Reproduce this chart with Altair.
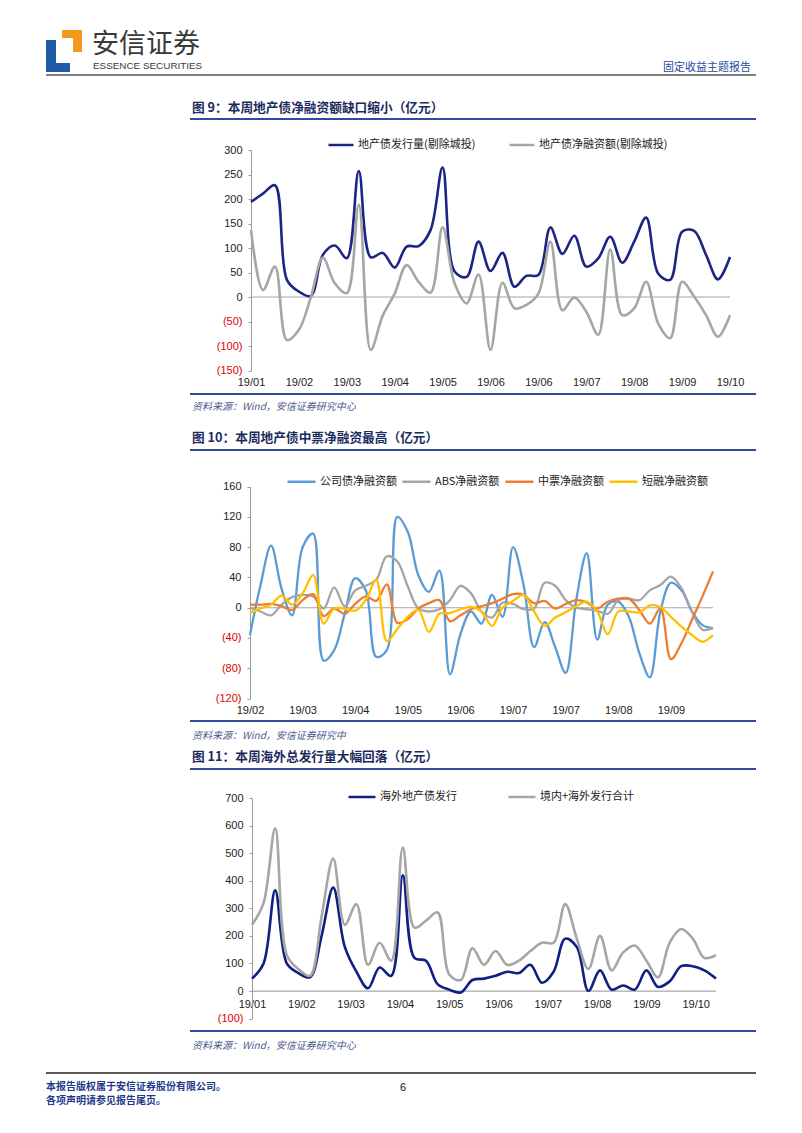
import altair as alt
import pandas as pd

# ---------------- data ----------------
C1_TICKS = ["19/01", "19/02", "19/03", "19/04", "19/05", "19/06", "19/06", "19/07", "19/08", "19/09", "19/10"]
C1_SERIES = ["地产债发行量(剔除城投)", "地产债净融资额(剔除城投)"]
C1_ISSUE = [194, 211, 228, 35, 11, 2, 86, 105, 79, 257, 81, 90, 60, 103, 104, 137, 264, 52, 41, 113,
            53, 90, 21, 43, 45, 142, 88, 125, 62, 79, 123, 70, 113, 162, 48, 35, 133, 135, 86, 36, 82]
C1_NET = [137, 14, 62, -88, -67, 0, 80, 28, 8, 188, -108, -38, 7, 65, 31, 9, 142, 28, -13, 46,
          -108, 29, -23, -16, 7, 113, -27, -1, -30, -77, 97, -37, -23, 31, -54, -84, 31, 1, -37, -81, -37]

C2_TICKS = ["19/02", "19/03", "19/04", "19/05", "19/06", "19/07", "19/07", "19/08", "19/09"]
C2_SERIES = ["公司债净融资额", "ABS净融资额", "中票净融资额", "短融净融资额"]
C2_CORP = [-36, 30, 82, 25, -10, 80, 98, -70, -56, -8, 39, 23, -65, -56, 120, 100, 43, 21, 49, -88,
           -35, -5, -21, 17, -12, 80, 30, -52, -19, -52, -86, 10, 72, -42, 4, 8, -12, -60, -92, -5,
           33, 23, -5, -23, -27]
C2_ABS = [0, -5, -10, 4, 14, 17, 15, -1, 27, 2, 23, 29, 37, 68, 61, 28, -1, -5, -2, 10,
          29, 19, -5, -13, 7, 5, -2, -1, 33, 29, 10, 0, -2, -4, -8, 10, 12, 10, 23, 30,
          41, 26, -5, -29, -27]
C2_MTN = [4, 4, 5, 2, -3, 10, 18, -11, -1, -8, 5, 15, 9, 31, -20, -15, -1, 6, 10, -18,
          -10, -2, 2, 6, 12, 18, 17, 6, 9, -1, 5, 10, 7, -1, 8, 12, 12, -3, -21, -1,
          -68, -47, -16, 15, 48]
C2_CP = [-7, -1, 4, 16, 4, 19, 43, -21, -1, -1, -4, 10, 37, -44, -28, -12, -3, -32, -8, -7,
         -2, 1, -5, -24, 0, 9, 17, -5, -24, -13, -6, 2, 8, -5, -35, -5, -5, -6, 3, 1,
         -12, -25, -36, -45, -36]

C3_TICKS = ["19/01", "19/02", "19/03", "19/04", "19/05", "19/06", "19/07", "19/08", "19/09", "19/10"]
C3_SERIES = ["海外地产债发行", "境内+海外发行合计"]
C3_OVERSEAS = [45, 100, 365, 100, 65, 50, 200, 375, 160, 70, 10, 85, 55, 420, 120, 110, 25, 5, -5, 40,
               45, 55, 70, 65, 95, 30, 70, 190, 160, 0, 75, 5, 20, 5, 75, 15, 35, 90, 90, 75, 45]
C3_TOTAL = [240, 320, 590, 130, 80, 55, 270, 480, 240, 315, 95, 175, 110, 520, 230, 255, 285, 60, 40, 155,
            95, 145, 95, 110, 145, 175, 175, 315, 190, 80, 200, 75, 140, 165, 110, 50, 175, 225, 190, 120, 130]

# ---------------- layout constants ----------------
W, H = 786, 1117
M = 8  # page margin
CJK = "Noto Sans CJK SC"
LAT = "Liberation Sans"
ONE = pd.DataFrame({"k": [0]})


def long_df(series, arrays):
    rows = []
    for name, arr in zip(series, arrays):
        for i, v in enumerate(arr):
            rows.append({"i": i, "value": v, "series": name})
    return pd.DataFrame(rows)


def text(s, x, y, size=11, color="#000000", font=CJK, weight="normal", align="left", style="normal"):
    return alt.Chart(ONE).mark_text(
        text=s, align=align, baseline="middle", font=font, fontSize=size,
        fontWeight=weight, fontStyle=style, color=color
    ).encode(x=alt.value(x - M), y=alt.value(y - M))


def hline(x1, x2, y, color, w):
    return alt.Chart(ONE).mark_rule(color=color, strokeWidth=w).encode(
        x=alt.value(x1 - M), x2=alt.value(x2 - M), y=alt.value(y - M))


def box(x1, x2, y1, y2, color):
    return alt.Chart(ONE).mark_rect(color=color).encode(
        x=alt.value(x1 - M), x2=alt.value(x2 - M), y=alt.value(y1 - M), y2=alt.value(y2 - M))


Y_LABEL = "datum.value < 0 ? '(' + format(-datum.value, 'd') + ')' : format(datum.value, 'd')"
Y_COLOR = {"condition": {"test": "datum.value < 0", "value": "#e00000"}, "value": "#222222"}


def panel(series, arrays, colors, n, ticks, tick_step, x_page, y_dom, y_page, y_vals,
          xaxis_page_y, leg_x, leg_y, leg_sym, leg_pad, stroke_w, label_pad=6):
    df = long_df(series, arrays)
    js = "[" + ",".join("'%s'" % t for t in ticks) + "]"
    xenc = alt.X(
        "i:Q",
        scale=alt.Scale(domain=[0, n - 1], range=[x_page[0] - M, x_page[1] - M], nice=False, zero=False),
        axis=alt.Axis(
            orient="bottom", offset=(xaxis_page_y - M) - H,
            values=[k * tick_step for k in range(len(ticks))],
            labelExpr=js + "[round(datum.value / %s)]" % tick_step,
            domain=False, ticks=False, grid=False, labelFlush=False, labelOverlap=False,
            labelPadding=label_pad, labelFont=LAT, labelFontSize=11, labelColor="#222222", title=None,
        ),
    )
    yenc = alt.Y(
        "value:Q",
        scale=alt.Scale(domain=y_dom, range=[y_page[0] - M, y_page[1] - M], nice=False, zero=False),
        axis=alt.Axis(
            orient="left", offset=-(x_page[0] - M), values=y_vals, labelExpr=Y_LABEL,
            labelColor=Y_COLOR, domain=True, domainColor="#9a9a9a", domainWidth=1,
            ticks=True, tickColor="#9a9a9a", tickSize=3, grid=False, labelPadding=6,
            labelFont=LAT, labelFontSize=11, title=None,
        ),
    )
    zero_df = pd.DataFrame({"i": [0], "i2": [n - 1], "value": [0]})
    zero = alt.Chart(zero_df).mark_rule(color="#a6a6a6", strokeWidth=1.2).encode(
        x=xenc, x2="i2:Q", y=yenc)
    lines = alt.Chart(df).mark_line(interpolate="catmull-rom", strokeWidth=stroke_w).encode(
        x=xenc, y=yenc,
        color=alt.Color(
            "series:N",
            scale=alt.Scale(domain=series, range=colors),
            legend=alt.Legend(
                orient="none", legendX=leg_x - M, legendY=leg_y - M, direction="horizontal",
                columns=len(series), title=None, symbolType="stroke",
                symbolSize=leg_sym * leg_sym, symbolStrokeWidth=2.5, labelFont=CJK,
                labelFontSize=11, labelColor="#222222", labelOffset=3, columnPadding=leg_pad,
                padding=0, labelLimit=400,
            ),
        ),
        order=alt.Order("i:Q"),
    )
    return alt.layer(zero, lines)


p1 = panel(C1_SERIES, [C1_ISSUE, C1_NET], ["#1b2585", "#a6a6a6"], len(C1_ISSUE), C1_TICKS, 4,
           (251, 730), [-150, 300], (370.5, 150), list(range(-150, 301, 50)),
           370.5, 327, 131, 25, 28, 2.6)
p2 = panel(C2_SERIES, [C2_CORP, C2_ABS, C2_MTN, C2_CP],
           ["#5b9bd5", "#a5a5a5", "#ed7d31", "#ffc000"], len(C2_CORP), C2_TICKS, 5,
           (250, 713), [-120, 160], (698.5, 486.7), list(range(-120, 161, 40)),
           698.5, 286, 466, 28, 0, 2.3)
p3 = panel(C3_SERIES, [C3_OVERSEAS, C3_TOTAL], ["#0f1f82", "#a6a6a6"], len(C3_TOTAL), C3_TICKS, 4.25,
           (252, 716), [-100, 700], (1018.6, 798), list(range(-100, 701, 100)),
           991, 347, 782, 27, 46, 2.6, label_pad=7)

TITLE_C = "#1c2b5e"
LINE_C = "#2e4c9b"
SRC_C = "#4a5a8f"

decor = [
    # logo
    box(62, 82, 30, 52, "#f39a1e"),
    box(62, 73, 38, 52, "#ffffff"),
    box(46, 56, 40, 72, "#1d5aa8"),
    box(46, 70, 63, 72, "#1d5aa8"),
    text("安信证券", 92, 45, size=27, color="#3a3a3a"),
    text("ESSENCE SECURITIES", 93, 66, size=9.9, color="#3a3a3a", font="Liberation Sans Narrow, Liberation Sans"),
    text("固定收益主题报告", 751, 68, size=11, color="#2a4aa0", align="right"),
    hline(46, 756, 75, "#555555", 1.5),
    # figure 9
    text("图 9：本周地产债净融资额缺口缩小（亿元）", 192, 108, size=12.7, color=TITLE_C, weight="bold"),
    hline(190, 756, 119, LINE_C, 2),
    hline(190, 756, 394, LINE_C, 2),
    text("资料来源：Wind，安信证券研究中心", 192, 407, size=10, color=SRC_C, style="italic"),
    # figure 10
    text("图 10：本周地产债中票净融资最高（亿元）", 192, 438, size=12.7, color=TITLE_C, weight="bold"),
    hline(190, 756, 450, LINE_C, 2),
    hline(190, 756, 721, LINE_C, 2),
    text("资料来源：Wind，安信证券研究中", 192, 736, size=10, color=SRC_C, style="italic"),
    # figure 11
    text("图 11：本周海外总发行量大幅回落（亿元）", 192, 757, size=12.7, color=TITLE_C, weight="bold"),
    hline(190, 756, 769, LINE_C, 2),
    hline(190, 756, 1031, LINE_C, 2),
    text("资料来源：Wind，安信证券研究中心", 192, 1046, size=10, color=SRC_C, style="italic"),
    # footer
    hline(46, 756, 1073, "#222222", 1.5),
    text("本报告版权属于安信证券股份有限公司。", 46, 1087, size=10, color="#1f3a8a", weight="bold"),
    text("各项声明请参见报告尾页。", 46, 1101, size=10, color="#1f3a8a", weight="bold"),
    text("6", 400, 1088, size=11, color="#111111", font=LAT),
]

chart = (
    alt.layer(*decor, p1, p2, p3)
    .resolve_scale(x="independent", y="independent", color="independent")
    .resolve_legend(color="independent")
    .properties(width=W, height=H, padding=0, autosize=alt.AutoSizeParams(type="none"))
    .configure_view(stroke=None)
)

chart.save("out.html", embed_options={"renderer": "svg", "actions": False})
